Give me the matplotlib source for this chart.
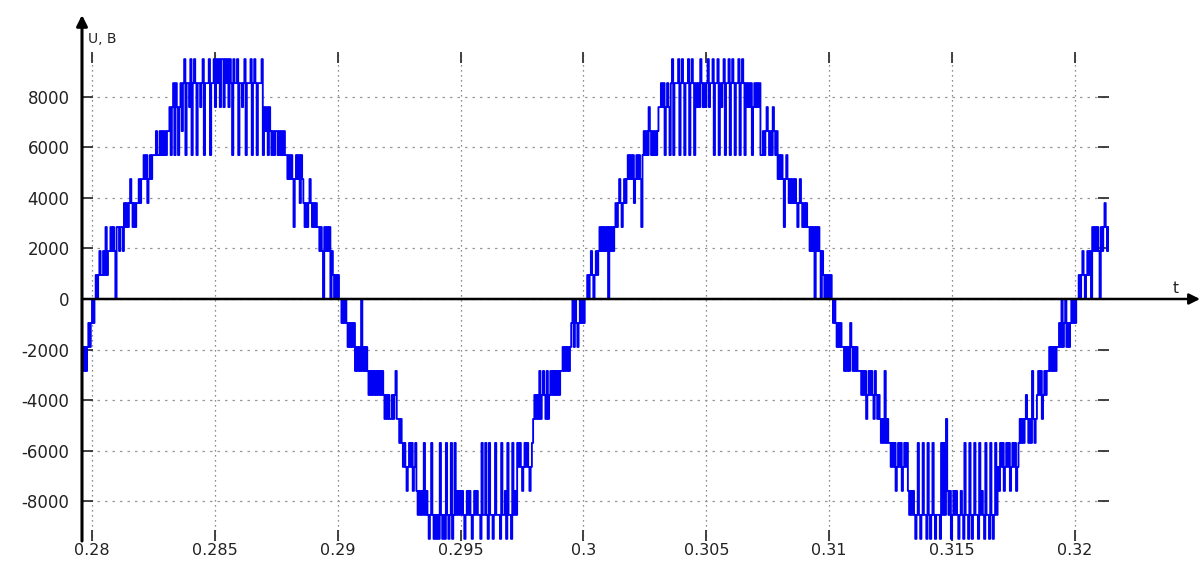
import numpy as np
import matplotlib
matplotlib.use("Agg")
import matplotlib.pyplot as plt

plt.rcParams['axes.unicode_minus'] = False
plt.rcParams['font.family'] = ['DejaVu Sans']

# inverter output: one level = 950 V, levels 0..10 written as 0-9, A
STEP_V = 950
SLOT_MS = 0.05   # one character = 0.05 ms of the trace

seg_start_ms = [279.55, 280.10, 290.10, 300.10, 310.10, 320.10]
seg_sign = [-1, 1, -1, 1, -1, 1]

pre_lv = "32323212101"
half1_lv = ("010121" "121312" "232320" "332332" "43434543434" "4545"
            "565645656" "667667676767" "786896986897"
            "9A6998A69A969989A6999A699" "A8A9A8AA8A9A8A"
            "96A99A69989A6999A69A96999A6" "878687676776767676"
            "65656535656465" "434345434343" "32320323230" "2101010")
half2_lv = ("01010121" "212132323032323" "434343434343" "454545545435"
            "565" "676787676876" "8989896989A969A9A9A69A9A69A96A969"
            "898989A98989A98989" "9A69969A699A96999A6998A699A6989"
            "6767876767876" "5454535" "4345354343434343" "3232323"
            "2102012" "101010")
half3_lv = ("0101210121" "23232323032323" "43454345" "45656564565653"
            "67676876767678" "898968986" "9A6999A69A9699A69A969"
            "898A98989A89" "9A699A6989A699A69A9699A69A969"
            "898968989896" "6767876768767" "56565356545" "454543454"
            "34343" "32323032320" "21010101")
half4_lv = ("010121212" "23232312323233" "3434354343453" "45456563656"
            "676768767687676" "898989A969A9699A69A969A999A696"
            "95898A98989A98" "9A699A69A9699A6989A699A69A969"
            "786768767687676876" "56565456563565" "434354343"
            "32323232" "2120210212" "101010")
tail_lv = "0101210121" "2032" "323203234323"

x_ticks = [0.28, 0.285, 0.29, 0.295, 0.3, 0.305, 0.31, 0.315, 0.32]
x_labels = ['0.28', '0.285', '0.29', '0.295', '0.3', '0.305', '0.31', '0.315', '0.32']
y_ticks = [-8000, -6000, -4000, -2000, 0, 2000, 4000, 6000, 8000]
y_labels = ['-8000', '-6000', '-4000', '-2000', '0', '2000', '4000', '6000', '8000']

segs = [pre_lv, half1_lv, half2_lv, half3_lv, half4_lv, tail_lv]
t_parts = []
u_parts = []
for t0, sg, lv in zip(seg_start_ms, seg_sign, segs):
    k = np.arange(len(lv))
    t_parts.append((t0 + k * SLOT_MS) / 1000.0)
    u_parts.append(sg * STEP_V * np.array([int(c, 16) for c in lv]))
t = np.concatenate(t_parts)
u = np.concatenate(u_parts)
t = np.append(t, t[-1] + SLOT_MS / 1000.0)
u = np.append(u, u[-1])

fig = plt.figure(figsize=(12.03, 5.64), dpi=100)
ax = fig.add_axes([82 / 1203, 23 / 564, 1027 / 1203, 489 / 564])

ax.plot(t, u, drawstyle='steps-post', color='#0000f5', lw=1.35, zorder=2)

ax.set_xlim(0.279593, 0.321384)
ax.set_ylim(-9584, 9782)
ax.set_xticks(x_ticks, x_labels)
ax.set_yticks(y_ticks, y_labels)

ax.xaxis.grid(True, ls=(0, (1, 3)), color='#666666', lw=0.9)
ax.yaxis.grid(True, ls=(0, (2, 4)), color='#999999', lw=0.9)
ax.set_axisbelow(True)

for sp in ax.spines.values():
    sp.set_visible(False)

ax.tick_params(direction='in', length=8, width=1.3, top=True, right=True,
               labelsize=12, labelcolor='#222222', colors='#333333')
ax.tick_params(axis='x', pad=1.5, labelsize=11.5)
ax.tick_params(axis='y', pad=9)

# axis arrows
ax.annotate('', xy=(0, 1.0757), xytext=(0, 0), xycoords='axes fraction',
            textcoords='axes fraction', annotation_clip=False,
            arrowprops=dict(arrowstyle='-|>', color='k', lw=2.2,
                            mutation_scale=16, shrinkA=0, shrinkB=0), zorder=5)
ax.annotate('', xy=(1.0886, 0), xytext=(0, 0),
            xycoords=('axes fraction', 'data'),
            textcoords=('axes fraction', 'data'), annotation_clip=False,
            arrowprops=dict(arrowstyle='-|>', color='k', lw=1.8,
                            mutation_scale=16, shrinkA=0, shrinkB=0), zorder=5)

ax.text(0.006, 1.0184, 'U, B', transform=ax.transAxes, fontsize=10,
        ha='left', va='baseline', color='#222222')
ax.text(1.062, 240, 't', transform=ax.get_yaxis_transform(), fontsize=11,
        ha='left', va='baseline', color='#222222')

fig.savefig('out.png', dpi=100)
